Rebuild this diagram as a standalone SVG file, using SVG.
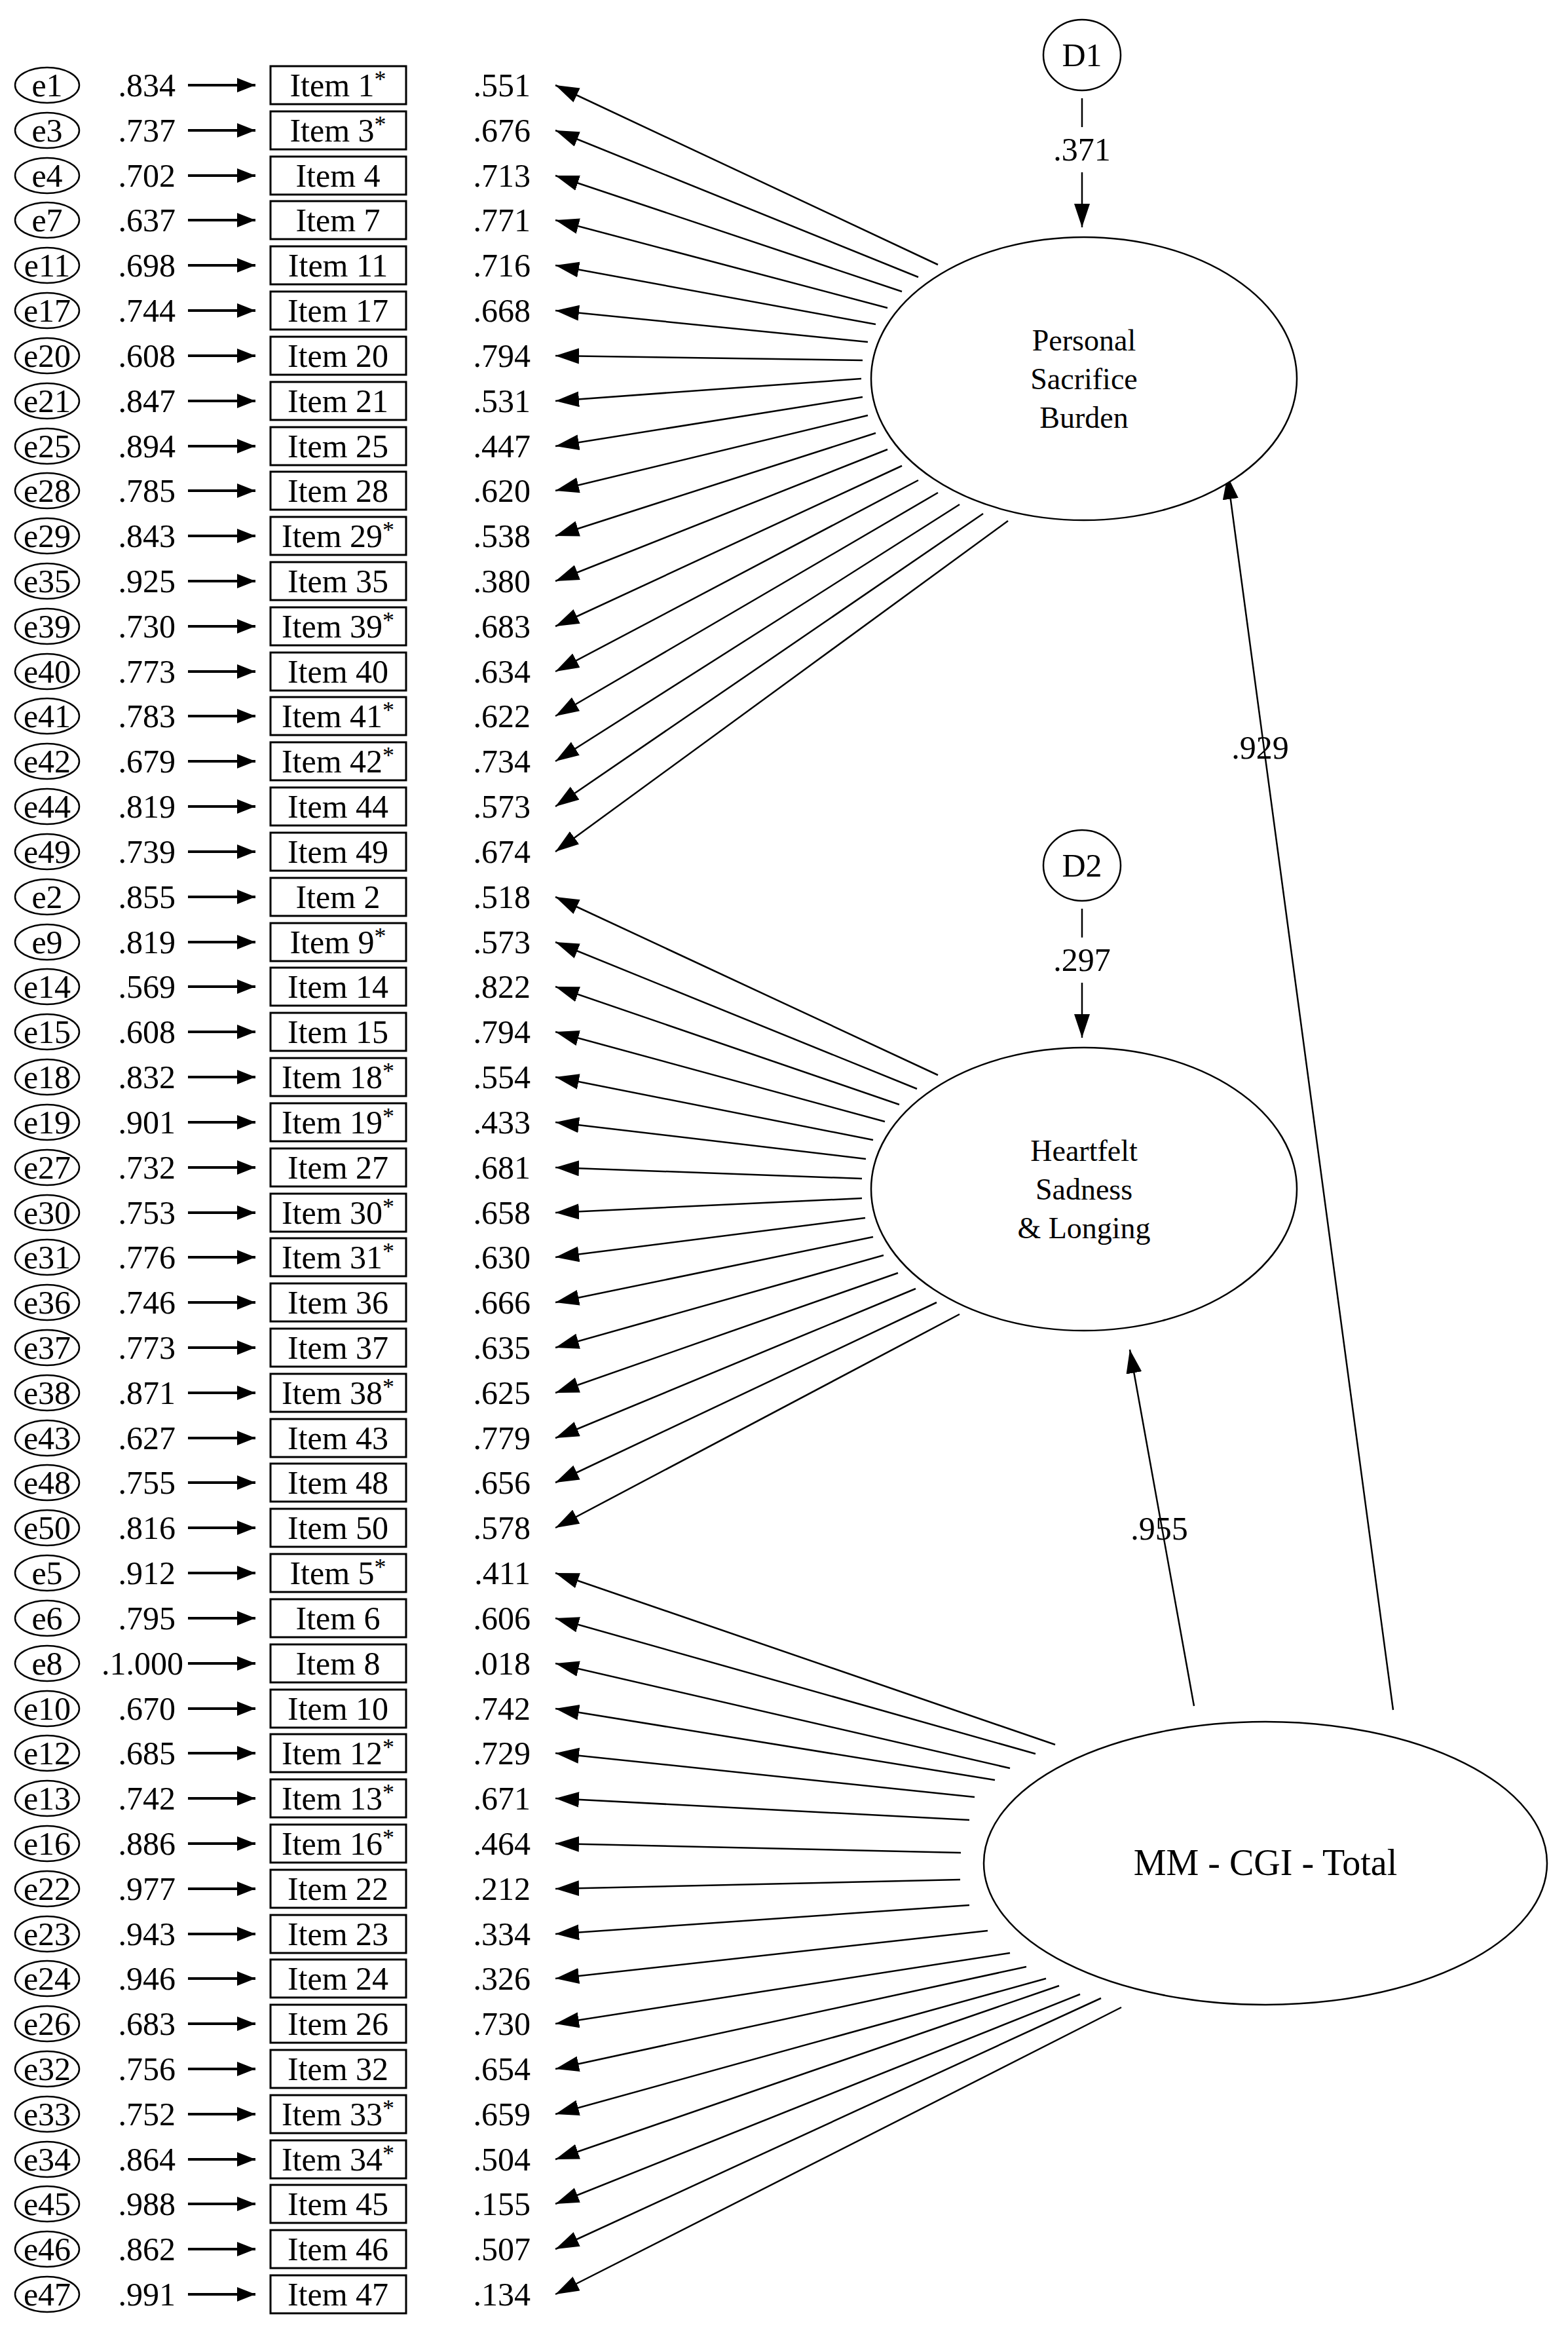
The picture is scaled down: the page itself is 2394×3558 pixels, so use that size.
<svg xmlns="http://www.w3.org/2000/svg" width="2394" height="3558" viewBox="0 0 2394 3558">
<defs>
<marker id="ah" markerUnits="userSpaceOnUse" markerWidth="40" markerHeight="28" refX="36" refY="12" orient="auto"><path d="M0,0 L36,12 L0,24 z" fill="#000"/></marker>
<marker id="as" markerUnits="userSpaceOnUse" markerWidth="30" markerHeight="24" refX="28" refY="11" orient="auto"><path d="M0,0 L28,11 L0,22 z" fill="#000"/></marker>
</defs>
<style>
text{font-family:"Liberation Serif","Times New Roman",serif;font-size:50px;fill:#000}
.c{text-anchor:middle}.r{text-anchor:end}
.e{fill:#fff;stroke:#000;stroke-width:2.5}
.b{fill:#fff;stroke:#000;stroke-width:3}
.s{stroke:#000;stroke-width:4;marker-end:url(#as)}
.l{stroke:#000;stroke-width:2.5;marker-end:url(#ah)}
.st{font-size:36px}
.big{font-size:46px}
</style>
<rect width="2394" height="3558" fill="#fff"/>
<g id="connectors">
<line class="l" x1="1432" y1="404" x2="848" y2="130"/>
<line class="l" x1="1402" y1="423" x2="848" y2="199"/>
<line class="l" x1="1377" y1="445" x2="848" y2="268"/>
<line class="l" x1="1355" y1="470" x2="848" y2="336"/>
<line class="l" x1="1337" y1="495" x2="848" y2="405"/>
<line class="l" x1="1325" y1="522" x2="848" y2="474"/>
<line class="l" x1="1317" y1="550" x2="848" y2="543"/>
<line class="l" x1="1315" y1="578" x2="848" y2="612"/>
<line class="l" x1="1317" y1="606" x2="848" y2="681"/>
<line class="l" x1="1325" y1="634" x2="848" y2="749"/>
<line class="l" x1="1337" y1="661" x2="848" y2="818"/>
<line class="l" x1="1355" y1="686" x2="848" y2="887"/>
<line class="l" x1="1377" y1="711" x2="848" y2="956"/>
<line class="l" x1="1402" y1="733" x2="848" y2="1025"/>
<line class="l" x1="1432" y1="752" x2="848" y2="1093"/>
<line class="l" x1="1465" y1="770" x2="848" y2="1162"/>
<line class="l" x1="1501" y1="784" x2="848" y2="1231"/>
<line class="l" x1="1539" y1="795" x2="848" y2="1300"/>
<line class="l" x1="1432" y1="1641" x2="848" y2="1369"/>
<line class="l" x1="1400" y1="1662" x2="848" y2="1438"/>
<line class="l" x1="1373" y1="1686" x2="848" y2="1506"/>
<line class="l" x1="1351" y1="1712" x2="848" y2="1575"/>
<line class="l" x1="1333" y1="1740" x2="848" y2="1644"/>
<line class="l" x1="1322" y1="1769" x2="848" y2="1713"/>
<line class="l" x1="1316" y1="1799" x2="848" y2="1782"/>
<line class="l" x1="1316" y1="1829" x2="848" y2="1851"/>
<line class="l" x1="1321" y1="1859" x2="848" y2="1919"/>
<line class="l" x1="1333" y1="1888" x2="848" y2="1988"/>
<line class="l" x1="1349" y1="1916" x2="848" y2="2057"/>
<line class="l" x1="1371" y1="1943" x2="848" y2="2126"/>
<line class="l" x1="1398" y1="1967" x2="848" y2="2195"/>
<line class="l" x1="1430" y1="1988" x2="848" y2="2263"/>
<line class="l" x1="1465" y1="2006" x2="848" y2="2332"/>
<line class="l" x1="1611" y1="2663" x2="848" y2="2401"/>
<line class="l" x1="1581" y1="2677" x2="848" y2="2470"/>
<line class="l" x1="1542" y1="2699" x2="848" y2="2539"/>
<line class="l" x1="1519" y1="2717" x2="848" y2="2608"/>
<line class="l" x1="1488" y1="2743" x2="848" y2="2676"/>
<line class="l" x1="1480" y1="2778" x2="848" y2="2745"/>
<line class="l" x1="1467" y1="2828" x2="848" y2="2814"/>
<line class="l" x1="1466" y1="2869" x2="848" y2="2883"/>
<line class="l" x1="1480" y1="2908" x2="848" y2="2952"/>
<line class="l" x1="1508" y1="2947" x2="848" y2="3020"/>
<line class="l" x1="1542" y1="2981" x2="848" y2="3089"/>
<line class="l" x1="1567" y1="3002" x2="848" y2="3158"/>
<line class="l" x1="1597" y1="3020" x2="848" y2="3227"/>
<line class="l" x1="1617" y1="3031" x2="848" y2="3296"/>
<line class="l" x1="1649" y1="3044" x2="848" y2="3364"/>
<line class="l" x1="1681" y1="3050" x2="848" y2="3433"/>
<line class="l" x1="1712" y1="3064" x2="848" y2="3502"/>
<line class="l" x1="1823" y1="2604" x2="1725" y2="2060"/>
<line class="l" x1="2127" y1="2610" x2="1874" y2="726"/>
<line stroke="#000" stroke-width="2.5" x1="1652" y1="150" x2="1652" y2="194"/>
<line class="l" x1="1652" y1="263" x2="1652" y2="347"/>
<line stroke="#000" stroke-width="2.5" x1="1652" y1="1387" x2="1652" y2="1431"/>
<line class="l" x1="1652" y1="1500" x2="1652" y2="1584"/>
<text x="1652" y="245" class="c">.371</text>
<text x="1652" y="1482" class="c">.297</text>
<text x="1924" y="1158" class="c">.929</text>
<text x="1770" y="2350" class="c">.955</text>
</g>
<g id="D1"><ellipse class="e" cx="1652" cy="84" rx="59" ry="54"/><text x="1652" y="101" class="c">D1</text></g>
<g id="D2"><ellipse class="e" cx="1652" cy="1321" rx="59" ry="54"/><text x="1652" y="1338" class="c">D2</text></g>
<g id="PSB"><ellipse class="e" cx="1655" cy="578" rx="325" ry="216"/>
<text x="1655" y="535" class="c big">Personal</text><text x="1655" y="594" class="c big">Sacrifice</text><text x="1655" y="653" class="c big">Burden</text></g>
<g id="HSL"><ellipse class="e" cx="1655" cy="1815" rx="325" ry="216"/>
<text x="1655" y="1772" class="c big">Heartfelt</text><text x="1655" y="1831" class="c big">Sadness</text><text x="1655" y="1890" class="c big">&amp; Longing</text></g>
<g id="MM"><ellipse class="e" cx="1932" cy="2844" rx="430" ry="216"/><text x="1932" y="2862" class="c" style="font-size:56px">MM - CGI - Total</text></g>
<g id="r_e1" transform="translate(0,130)"><ellipse class="e" cx="72" cy="0" rx="49" ry="27"/><text x="72" y="17" class="c">e1</text><text x="268" y="17" class="r">.834</text><line class="s" x1="287" y1="0" x2="390" y2="0"/><rect class="b" x="413" y="-29" width="207" height="58"/><text x="516" y="17" class="c">Item 1<tspan class="st" dy="-14">*</tspan></text><text x="810" y="17" class="r">.551</text></g>
<g id="r_e3" transform="translate(0,199)"><ellipse class="e" cx="72" cy="0" rx="49" ry="27"/><text x="72" y="17" class="c">e3</text><text x="268" y="17" class="r">.737</text><line class="s" x1="287" y1="0" x2="390" y2="0"/><rect class="b" x="413" y="-29" width="207" height="58"/><text x="516" y="17" class="c">Item 3<tspan class="st" dy="-14">*</tspan></text><text x="810" y="17" class="r">.676</text></g>
<g id="r_e4" transform="translate(0,268)"><ellipse class="e" cx="72" cy="0" rx="49" ry="27"/><text x="72" y="17" class="c">e4</text><text x="268" y="17" class="r">.702</text><line class="s" x1="287" y1="0" x2="390" y2="0"/><rect class="b" x="413" y="-29" width="207" height="58"/><text x="516" y="17" class="c">Item 4</text><text x="810" y="17" class="r">.713</text></g>
<g id="r_e7" transform="translate(0,336)"><ellipse class="e" cx="72" cy="0" rx="49" ry="27"/><text x="72" y="17" class="c">e7</text><text x="268" y="17" class="r">.637</text><line class="s" x1="287" y1="0" x2="390" y2="0"/><rect class="b" x="413" y="-29" width="207" height="58"/><text x="516" y="17" class="c">Item 7</text><text x="810" y="17" class="r">.771</text></g>
<g id="r_e11" transform="translate(0,405)"><ellipse class="e" cx="72" cy="0" rx="49" ry="27"/><text x="72" y="17" class="c">e11</text><text x="268" y="17" class="r">.698</text><line class="s" x1="287" y1="0" x2="390" y2="0"/><rect class="b" x="413" y="-29" width="207" height="58"/><text x="516" y="17" class="c">Item 11</text><text x="810" y="17" class="r">.716</text></g>
<g id="r_e17" transform="translate(0,474)"><ellipse class="e" cx="72" cy="0" rx="49" ry="27"/><text x="72" y="17" class="c">e17</text><text x="268" y="17" class="r">.744</text><line class="s" x1="287" y1="0" x2="390" y2="0"/><rect class="b" x="413" y="-29" width="207" height="58"/><text x="516" y="17" class="c">Item 17</text><text x="810" y="17" class="r">.668</text></g>
<g id="r_e20" transform="translate(0,543)"><ellipse class="e" cx="72" cy="0" rx="49" ry="27"/><text x="72" y="17" class="c">e20</text><text x="268" y="17" class="r">.608</text><line class="s" x1="287" y1="0" x2="390" y2="0"/><rect class="b" x="413" y="-29" width="207" height="58"/><text x="516" y="17" class="c">Item 20</text><text x="810" y="17" class="r">.794</text></g>
<g id="r_e21" transform="translate(0,612)"><ellipse class="e" cx="72" cy="0" rx="49" ry="27"/><text x="72" y="17" class="c">e21</text><text x="268" y="17" class="r">.847</text><line class="s" x1="287" y1="0" x2="390" y2="0"/><rect class="b" x="413" y="-29" width="207" height="58"/><text x="516" y="17" class="c">Item 21</text><text x="810" y="17" class="r">.531</text></g>
<g id="r_e25" transform="translate(0,681)"><ellipse class="e" cx="72" cy="0" rx="49" ry="27"/><text x="72" y="17" class="c">e25</text><text x="268" y="17" class="r">.894</text><line class="s" x1="287" y1="0" x2="390" y2="0"/><rect class="b" x="413" y="-29" width="207" height="58"/><text x="516" y="17" class="c">Item 25</text><text x="810" y="17" class="r">.447</text></g>
<g id="r_e28" transform="translate(0,749)"><ellipse class="e" cx="72" cy="0" rx="49" ry="27"/><text x="72" y="17" class="c">e28</text><text x="268" y="17" class="r">.785</text><line class="s" x1="287" y1="0" x2="390" y2="0"/><rect class="b" x="413" y="-29" width="207" height="58"/><text x="516" y="17" class="c">Item 28</text><text x="810" y="17" class="r">.620</text></g>
<g id="r_e29" transform="translate(0,818)"><ellipse class="e" cx="72" cy="0" rx="49" ry="27"/><text x="72" y="17" class="c">e29</text><text x="268" y="17" class="r">.843</text><line class="s" x1="287" y1="0" x2="390" y2="0"/><rect class="b" x="413" y="-29" width="207" height="58"/><text x="516" y="17" class="c">Item 29<tspan class="st" dy="-14">*</tspan></text><text x="810" y="17" class="r">.538</text></g>
<g id="r_e35" transform="translate(0,887)"><ellipse class="e" cx="72" cy="0" rx="49" ry="27"/><text x="72" y="17" class="c">e35</text><text x="268" y="17" class="r">.925</text><line class="s" x1="287" y1="0" x2="390" y2="0"/><rect class="b" x="413" y="-29" width="207" height="58"/><text x="516" y="17" class="c">Item 35</text><text x="810" y="17" class="r">.380</text></g>
<g id="r_e39" transform="translate(0,956)"><ellipse class="e" cx="72" cy="0" rx="49" ry="27"/><text x="72" y="17" class="c">e39</text><text x="268" y="17" class="r">.730</text><line class="s" x1="287" y1="0" x2="390" y2="0"/><rect class="b" x="413" y="-29" width="207" height="58"/><text x="516" y="17" class="c">Item 39<tspan class="st" dy="-14">*</tspan></text><text x="810" y="17" class="r">.683</text></g>
<g id="r_e40" transform="translate(0,1025)"><ellipse class="e" cx="72" cy="0" rx="49" ry="27"/><text x="72" y="17" class="c">e40</text><text x="268" y="17" class="r">.773</text><line class="s" x1="287" y1="0" x2="390" y2="0"/><rect class="b" x="413" y="-29" width="207" height="58"/><text x="516" y="17" class="c">Item 40</text><text x="810" y="17" class="r">.634</text></g>
<g id="r_e41" transform="translate(0,1093)"><ellipse class="e" cx="72" cy="0" rx="49" ry="27"/><text x="72" y="17" class="c">e41</text><text x="268" y="17" class="r">.783</text><line class="s" x1="287" y1="0" x2="390" y2="0"/><rect class="b" x="413" y="-29" width="207" height="58"/><text x="516" y="17" class="c">Item 41<tspan class="st" dy="-14">*</tspan></text><text x="810" y="17" class="r">.622</text></g>
<g id="r_e42" transform="translate(0,1162)"><ellipse class="e" cx="72" cy="0" rx="49" ry="27"/><text x="72" y="17" class="c">e42</text><text x="268" y="17" class="r">.679</text><line class="s" x1="287" y1="0" x2="390" y2="0"/><rect class="b" x="413" y="-29" width="207" height="58"/><text x="516" y="17" class="c">Item 42<tspan class="st" dy="-14">*</tspan></text><text x="810" y="17" class="r">.734</text></g>
<g id="r_e44" transform="translate(0,1231)"><ellipse class="e" cx="72" cy="0" rx="49" ry="27"/><text x="72" y="17" class="c">e44</text><text x="268" y="17" class="r">.819</text><line class="s" x1="287" y1="0" x2="390" y2="0"/><rect class="b" x="413" y="-29" width="207" height="58"/><text x="516" y="17" class="c">Item 44</text><text x="810" y="17" class="r">.573</text></g>
<g id="r_e49" transform="translate(0,1300)"><ellipse class="e" cx="72" cy="0" rx="49" ry="27"/><text x="72" y="17" class="c">e49</text><text x="268" y="17" class="r">.739</text><line class="s" x1="287" y1="0" x2="390" y2="0"/><rect class="b" x="413" y="-29" width="207" height="58"/><text x="516" y="17" class="c">Item 49</text><text x="810" y="17" class="r">.674</text></g>
<g id="r_e2" transform="translate(0,1369)"><ellipse class="e" cx="72" cy="0" rx="49" ry="27"/><text x="72" y="17" class="c">e2</text><text x="268" y="17" class="r">.855</text><line class="s" x1="287" y1="0" x2="390" y2="0"/><rect class="b" x="413" y="-29" width="207" height="58"/><text x="516" y="17" class="c">Item 2</text><text x="810" y="17" class="r">.518</text></g>
<g id="r_e9" transform="translate(0,1438)"><ellipse class="e" cx="72" cy="0" rx="49" ry="27"/><text x="72" y="17" class="c">e9</text><text x="268" y="17" class="r">.819</text><line class="s" x1="287" y1="0" x2="390" y2="0"/><rect class="b" x="413" y="-29" width="207" height="58"/><text x="516" y="17" class="c">Item 9<tspan class="st" dy="-14">*</tspan></text><text x="810" y="17" class="r">.573</text></g>
<g id="r_e14" transform="translate(0,1506)"><ellipse class="e" cx="72" cy="0" rx="49" ry="27"/><text x="72" y="17" class="c">e14</text><text x="268" y="17" class="r">.569</text><line class="s" x1="287" y1="0" x2="390" y2="0"/><rect class="b" x="413" y="-29" width="207" height="58"/><text x="516" y="17" class="c">Item 14</text><text x="810" y="17" class="r">.822</text></g>
<g id="r_e15" transform="translate(0,1575)"><ellipse class="e" cx="72" cy="0" rx="49" ry="27"/><text x="72" y="17" class="c">e15</text><text x="268" y="17" class="r">.608</text><line class="s" x1="287" y1="0" x2="390" y2="0"/><rect class="b" x="413" y="-29" width="207" height="58"/><text x="516" y="17" class="c">Item 15</text><text x="810" y="17" class="r">.794</text></g>
<g id="r_e18" transform="translate(0,1644)"><ellipse class="e" cx="72" cy="0" rx="49" ry="27"/><text x="72" y="17" class="c">e18</text><text x="268" y="17" class="r">.832</text><line class="s" x1="287" y1="0" x2="390" y2="0"/><rect class="b" x="413" y="-29" width="207" height="58"/><text x="516" y="17" class="c">Item 18<tspan class="st" dy="-14">*</tspan></text><text x="810" y="17" class="r">.554</text></g>
<g id="r_e19" transform="translate(0,1713)"><ellipse class="e" cx="72" cy="0" rx="49" ry="27"/><text x="72" y="17" class="c">e19</text><text x="268" y="17" class="r">.901</text><line class="s" x1="287" y1="0" x2="390" y2="0"/><rect class="b" x="413" y="-29" width="207" height="58"/><text x="516" y="17" class="c">Item 19<tspan class="st" dy="-14">*</tspan></text><text x="810" y="17" class="r">.433</text></g>
<g id="r_e27" transform="translate(0,1782)"><ellipse class="e" cx="72" cy="0" rx="49" ry="27"/><text x="72" y="17" class="c">e27</text><text x="268" y="17" class="r">.732</text><line class="s" x1="287" y1="0" x2="390" y2="0"/><rect class="b" x="413" y="-29" width="207" height="58"/><text x="516" y="17" class="c">Item 27</text><text x="810" y="17" class="r">.681</text></g>
<g id="r_e30" transform="translate(0,1851)"><ellipse class="e" cx="72" cy="0" rx="49" ry="27"/><text x="72" y="17" class="c">e30</text><text x="268" y="17" class="r">.753</text><line class="s" x1="287" y1="0" x2="390" y2="0"/><rect class="b" x="413" y="-29" width="207" height="58"/><text x="516" y="17" class="c">Item 30<tspan class="st" dy="-14">*</tspan></text><text x="810" y="17" class="r">.658</text></g>
<g id="r_e31" transform="translate(0,1919)"><ellipse class="e" cx="72" cy="0" rx="49" ry="27"/><text x="72" y="17" class="c">e31</text><text x="268" y="17" class="r">.776</text><line class="s" x1="287" y1="0" x2="390" y2="0"/><rect class="b" x="413" y="-29" width="207" height="58"/><text x="516" y="17" class="c">Item 31<tspan class="st" dy="-14">*</tspan></text><text x="810" y="17" class="r">.630</text></g>
<g id="r_e36" transform="translate(0,1988)"><ellipse class="e" cx="72" cy="0" rx="49" ry="27"/><text x="72" y="17" class="c">e36</text><text x="268" y="17" class="r">.746</text><line class="s" x1="287" y1="0" x2="390" y2="0"/><rect class="b" x="413" y="-29" width="207" height="58"/><text x="516" y="17" class="c">Item 36</text><text x="810" y="17" class="r">.666</text></g>
<g id="r_e37" transform="translate(0,2057)"><ellipse class="e" cx="72" cy="0" rx="49" ry="27"/><text x="72" y="17" class="c">e37</text><text x="268" y="17" class="r">.773</text><line class="s" x1="287" y1="0" x2="390" y2="0"/><rect class="b" x="413" y="-29" width="207" height="58"/><text x="516" y="17" class="c">Item 37</text><text x="810" y="17" class="r">.635</text></g>
<g id="r_e38" transform="translate(0,2126)"><ellipse class="e" cx="72" cy="0" rx="49" ry="27"/><text x="72" y="17" class="c">e38</text><text x="268" y="17" class="r">.871</text><line class="s" x1="287" y1="0" x2="390" y2="0"/><rect class="b" x="413" y="-29" width="207" height="58"/><text x="516" y="17" class="c">Item 38<tspan class="st" dy="-14">*</tspan></text><text x="810" y="17" class="r">.625</text></g>
<g id="r_e43" transform="translate(0,2195)"><ellipse class="e" cx="72" cy="0" rx="49" ry="27"/><text x="72" y="17" class="c">e43</text><text x="268" y="17" class="r">.627</text><line class="s" x1="287" y1="0" x2="390" y2="0"/><rect class="b" x="413" y="-29" width="207" height="58"/><text x="516" y="17" class="c">Item 43</text><text x="810" y="17" class="r">.779</text></g>
<g id="r_e48" transform="translate(0,2263)"><ellipse class="e" cx="72" cy="0" rx="49" ry="27"/><text x="72" y="17" class="c">e48</text><text x="268" y="17" class="r">.755</text><line class="s" x1="287" y1="0" x2="390" y2="0"/><rect class="b" x="413" y="-29" width="207" height="58"/><text x="516" y="17" class="c">Item 48</text><text x="810" y="17" class="r">.656</text></g>
<g id="r_e50" transform="translate(0,2332)"><ellipse class="e" cx="72" cy="0" rx="49" ry="27"/><text x="72" y="17" class="c">e50</text><text x="268" y="17" class="r">.816</text><line class="s" x1="287" y1="0" x2="390" y2="0"/><rect class="b" x="413" y="-29" width="207" height="58"/><text x="516" y="17" class="c">Item 50</text><text x="810" y="17" class="r">.578</text></g>
<g id="r_e5" transform="translate(0,2401)"><ellipse class="e" cx="72" cy="0" rx="49" ry="27"/><text x="72" y="17" class="c">e5</text><text x="268" y="17" class="r">.912</text><line class="s" x1="287" y1="0" x2="390" y2="0"/><rect class="b" x="413" y="-29" width="207" height="58"/><text x="516" y="17" class="c">Item 5<tspan class="st" dy="-14">*</tspan></text><text x="810" y="17" class="r">.411</text></g>
<g id="r_e6" transform="translate(0,2470)"><ellipse class="e" cx="72" cy="0" rx="49" ry="27"/><text x="72" y="17" class="c">e6</text><text x="268" y="17" class="r">.795</text><line class="s" x1="287" y1="0" x2="390" y2="0"/><rect class="b" x="413" y="-29" width="207" height="58"/><text x="516" y="17" class="c">Item 6</text><text x="810" y="17" class="r">.606</text></g>
<g id="r_e8" transform="translate(0,2539)"><ellipse class="e" cx="72" cy="0" rx="49" ry="27"/><text x="72" y="17" class="c">e8</text><text x="280" y="17" class="r">.1.000</text><line class="s" x1="287" y1="0" x2="390" y2="0"/><rect class="b" x="413" y="-29" width="207" height="58"/><text x="516" y="17" class="c">Item 8</text><text x="810" y="17" class="r">.018</text></g>
<g id="r_e10" transform="translate(0,2608)"><ellipse class="e" cx="72" cy="0" rx="49" ry="27"/><text x="72" y="17" class="c">e10</text><text x="268" y="17" class="r">.670</text><line class="s" x1="287" y1="0" x2="390" y2="0"/><rect class="b" x="413" y="-29" width="207" height="58"/><text x="516" y="17" class="c">Item 10</text><text x="810" y="17" class="r">.742</text></g>
<g id="r_e12" transform="translate(0,2676)"><ellipse class="e" cx="72" cy="0" rx="49" ry="27"/><text x="72" y="17" class="c">e12</text><text x="268" y="17" class="r">.685</text><line class="s" x1="287" y1="0" x2="390" y2="0"/><rect class="b" x="413" y="-29" width="207" height="58"/><text x="516" y="17" class="c">Item 12<tspan class="st" dy="-14">*</tspan></text><text x="810" y="17" class="r">.729</text></g>
<g id="r_e13" transform="translate(0,2745)"><ellipse class="e" cx="72" cy="0" rx="49" ry="27"/><text x="72" y="17" class="c">e13</text><text x="268" y="17" class="r">.742</text><line class="s" x1="287" y1="0" x2="390" y2="0"/><rect class="b" x="413" y="-29" width="207" height="58"/><text x="516" y="17" class="c">Item 13<tspan class="st" dy="-14">*</tspan></text><text x="810" y="17" class="r">.671</text></g>
<g id="r_e16" transform="translate(0,2814)"><ellipse class="e" cx="72" cy="0" rx="49" ry="27"/><text x="72" y="17" class="c">e16</text><text x="268" y="17" class="r">.886</text><line class="s" x1="287" y1="0" x2="390" y2="0"/><rect class="b" x="413" y="-29" width="207" height="58"/><text x="516" y="17" class="c">Item 16<tspan class="st" dy="-14">*</tspan></text><text x="810" y="17" class="r">.464</text></g>
<g id="r_e22" transform="translate(0,2883)"><ellipse class="e" cx="72" cy="0" rx="49" ry="27"/><text x="72" y="17" class="c">e22</text><text x="268" y="17" class="r">.977</text><line class="s" x1="287" y1="0" x2="390" y2="0"/><rect class="b" x="413" y="-29" width="207" height="58"/><text x="516" y="17" class="c">Item 22</text><text x="810" y="17" class="r">.212</text></g>
<g id="r_e23" transform="translate(0,2952)"><ellipse class="e" cx="72" cy="0" rx="49" ry="27"/><text x="72" y="17" class="c">e23</text><text x="268" y="17" class="r">.943</text><line class="s" x1="287" y1="0" x2="390" y2="0"/><rect class="b" x="413" y="-29" width="207" height="58"/><text x="516" y="17" class="c">Item 23</text><text x="810" y="17" class="r">.334</text></g>
<g id="r_e24" transform="translate(0,3020)"><ellipse class="e" cx="72" cy="0" rx="49" ry="27"/><text x="72" y="17" class="c">e24</text><text x="268" y="17" class="r">.946</text><line class="s" x1="287" y1="0" x2="390" y2="0"/><rect class="b" x="413" y="-29" width="207" height="58"/><text x="516" y="17" class="c">Item 24</text><text x="810" y="17" class="r">.326</text></g>
<g id="r_e26" transform="translate(0,3089)"><ellipse class="e" cx="72" cy="0" rx="49" ry="27"/><text x="72" y="17" class="c">e26</text><text x="268" y="17" class="r">.683</text><line class="s" x1="287" y1="0" x2="390" y2="0"/><rect class="b" x="413" y="-29" width="207" height="58"/><text x="516" y="17" class="c">Item 26</text><text x="810" y="17" class="r">.730</text></g>
<g id="r_e32" transform="translate(0,3158)"><ellipse class="e" cx="72" cy="0" rx="49" ry="27"/><text x="72" y="17" class="c">e32</text><text x="268" y="17" class="r">.756</text><line class="s" x1="287" y1="0" x2="390" y2="0"/><rect class="b" x="413" y="-29" width="207" height="58"/><text x="516" y="17" class="c">Item 32</text><text x="810" y="17" class="r">.654</text></g>
<g id="r_e33" transform="translate(0,3227)"><ellipse class="e" cx="72" cy="0" rx="49" ry="27"/><text x="72" y="17" class="c">e33</text><text x="268" y="17" class="r">.752</text><line class="s" x1="287" y1="0" x2="390" y2="0"/><rect class="b" x="413" y="-29" width="207" height="58"/><text x="516" y="17" class="c">Item 33<tspan class="st" dy="-14">*</tspan></text><text x="810" y="17" class="r">.659</text></g>
<g id="r_e34" transform="translate(0,3296)"><ellipse class="e" cx="72" cy="0" rx="49" ry="27"/><text x="72" y="17" class="c">e34</text><text x="268" y="17" class="r">.864</text><line class="s" x1="287" y1="0" x2="390" y2="0"/><rect class="b" x="413" y="-29" width="207" height="58"/><text x="516" y="17" class="c">Item 34<tspan class="st" dy="-14">*</tspan></text><text x="810" y="17" class="r">.504</text></g>
<g id="r_e45" transform="translate(0,3364)"><ellipse class="e" cx="72" cy="0" rx="49" ry="27"/><text x="72" y="17" class="c">e45</text><text x="268" y="17" class="r">.988</text><line class="s" x1="287" y1="0" x2="390" y2="0"/><rect class="b" x="413" y="-29" width="207" height="58"/><text x="516" y="17" class="c">Item 45</text><text x="810" y="17" class="r">.155</text></g>
<g id="r_e46" transform="translate(0,3433)"><ellipse class="e" cx="72" cy="0" rx="49" ry="27"/><text x="72" y="17" class="c">e46</text><text x="268" y="17" class="r">.862</text><line class="s" x1="287" y1="0" x2="390" y2="0"/><rect class="b" x="413" y="-29" width="207" height="58"/><text x="516" y="17" class="c">Item 46</text><text x="810" y="17" class="r">.507</text></g>
<g id="r_e47" transform="translate(0,3502)"><ellipse class="e" cx="72" cy="0" rx="49" ry="27"/><text x="72" y="17" class="c">e47</text><text x="268" y="17" class="r">.991</text><line class="s" x1="287" y1="0" x2="390" y2="0"/><rect class="b" x="413" y="-29" width="207" height="58"/><text x="516" y="17" class="c">Item 47</text><text x="810" y="17" class="r">.134</text></g>
</svg>
